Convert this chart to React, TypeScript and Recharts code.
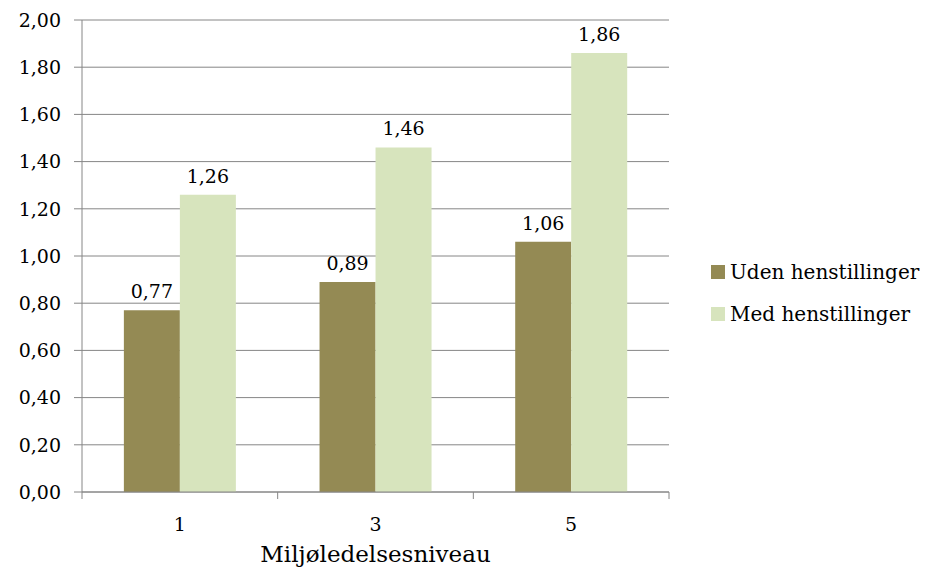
import React from 'react';
import { BarChart, Bar, XAxis, YAxis, CartesianGrid, Legend, LabelList } from 'recharts';

const categories = ['1', '3', '5'];
const udenValues = [0.77, 0.89, 1.06];
const medValues = [1.26, 1.46, 1.86];
const yTicks = [0, 0.2, 0.4, 0.6, 0.8, 1.0, 1.2, 1.4, 1.6, 1.8, 2.0];
const seriesNames = ['Uden henstillinger', 'Med henstillinger'];
const seriesColors = ['#948A54', '#D7E4BD'];
const axisTitle = 'Miljøledelsesniveau';

const data = categories.map((c, i) => ({ cat: c, uden: udenValues[i], med: medValues[i] }));

const FONT = '"DejaVu Serif", Georgia, serif';
const GRID = '#868686';
const TICK_SIZE = 7;
const TICK_MARGIN = 19;
const fmt = (v: number) => v.toFixed(2).replace('.', ',');

const CatTick = (props: any) => {
  const { x, y, payload, index, visibleTicksCount } = props;
  const half = payload && typeof payload.offset === 'number' ? payload.offset : 0;
  const yTop = y - TICK_MARGIN - TICK_SIZE;
  const yBot = y - TICK_MARGIN;
  const last = index === (visibleTicksCount ?? categories.length) - 1;
  return (
    <g>
      {half > 0 && <line x1={x - half} x2={x - half} y1={yTop} y2={yBot} stroke={GRID} />}
      {half > 0 && last && <line x1={x + half} x2={x + half} y1={yTop} y2={yBot} stroke={GRID} />}
      <text x={x} y={y} dy="0.71em" textAnchor="middle" fill="#000" fontFamily={FONT} fontSize={19}>
        {payload.value}
      </text>
    </g>
  );
};

const LegendContent = () => (
  <div style={{ fontFamily: FONT, fontSize: 20, color: '#000' }}>
    {seriesNames.map((n, i) => (
      <div key={n} style={{ display: 'flex', alignItems: 'center', height: 42, whiteSpace: 'nowrap' }}>
        <span style={{ display: 'inline-block', width: 14, height: 14, background: seriesColors[i], marginRight: 5 }} />
        <span>{n}</span>
      </div>
    ))}
  </div>
);

export default function App() {
  return (
    <div style={{ position: 'absolute', left: 0, top: 0, width: 927, height: 574, background: '#fff' }}>
      <BarChart
        width={927}
        height={574}
        data={data}
        margin={{ top: 20, right: 258, bottom: 0, left: 0 }}
        barCategoryGap="21.4%"
        barGap={0}
      >
        <CartesianGrid vertical={false} stroke={GRID} strokeWidth={1} />
        <XAxis
          dataKey="cat"
          height={82}
          tickLine={{ stroke: 'none' }}
          axisLine={{ stroke: GRID }}
          tickSize={TICK_SIZE}
          tickMargin={TICK_MARGIN}
          tick={<CatTick />}
          interval={0}
          label={{ value: axisTitle, position: 'insideBottom', offset: 12, fill: '#000', fontFamily: FONT, fontSize: 23 }}
        />
        <YAxis
          width={82}
          domain={[0, 2]}
          ticks={yTicks}
          interval={0}
          tickFormatter={fmt}
          tickSize={8}
          tickMargin={13}
          tickLine={{ stroke: GRID }}
          axisLine={{ stroke: GRID }}
          tick={{ fill: '#000', fontFamily: FONT, fontSize: 19 }}
        />
        <Legend
          layout="horizontal"
          verticalAlign="middle"
          align="center"
          content={<LegendContent />}
          wrapperStyle={{ left: 711, top: 251, width: 216 }}
        />
        <Bar dataKey="uden" name={seriesNames[0]} fill={seriesColors[0]} isAnimationActive={false}>
          <LabelList dataKey="uden" position="top" offset={12} formatter={(v: any) => fmt(Number(v))} style={{ fill: '#000', fontFamily: FONT, fontSize: 19 }} />
        </Bar>
        <Bar dataKey="med" name={seriesNames[1]} fill={seriesColors[1]} isAnimationActive={false}>
          <LabelList dataKey="med" position="top" offset={12} formatter={(v: any) => fmt(Number(v))} style={{ fill: '#000', fontFamily: FONT, fontSize: 19 }} />
        </Bar>
      </BarChart>
    </div>
  );
}
